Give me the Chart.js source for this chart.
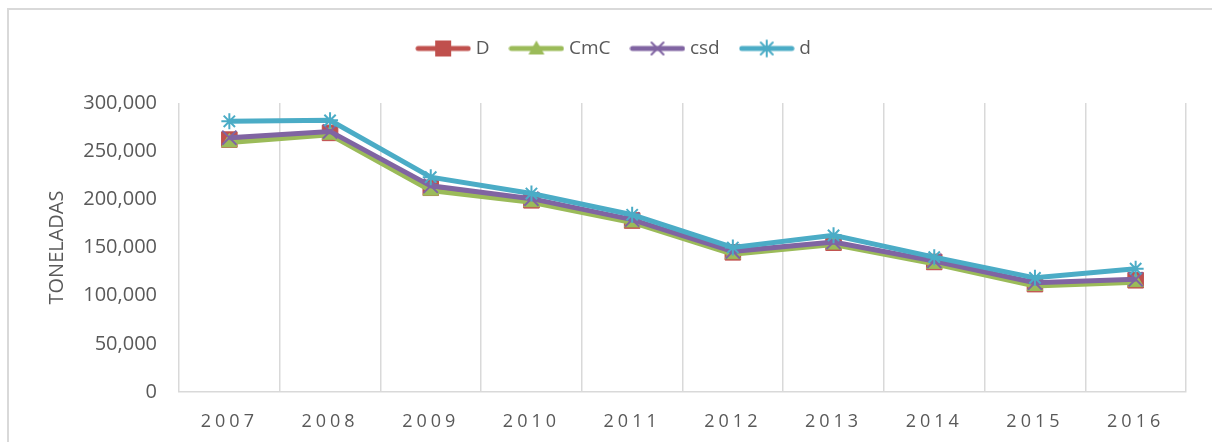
<!DOCTYPE html>
<html>
<head>
<meta charset="utf-8">
<script src="https://cdn.jsdelivr.net/npm/chart.js@4.4.1/dist/chart.umd.min.js"></script>
<style>
  html, body { margin: 0; padding: 0; background: #fff; }
  #wrap { position: relative; width: 1212px; height: 442px; overflow: hidden; }
  #frame {
    position: absolute; left: 7px; top: 8px; width: 1230px; height: 460px;
    border-left: 2px solid #d9d9d9; border-top: 2px solid #d9d9d9;
  }
  #chart { position: absolute; left: 0; top: 0; }
</style>
</head>
<body>
<div id="wrap">
  <div id="frame"></div>
  <canvas id="chart" width="1212" height="442"></canvas>
</div>
<script>
const years = ["2007", "2008", "2009", "2010", "2011", "2012", "2013", "2014", "2015", "2016"];

const serieD   = [262000, 269000, 212000, 199000, 178000, 145000, 155000, 135000, 112000, 116000];
const serieCmC = [259000, 267000, 209000, 197000, 176000, 143000, 153000, 133000, 110000, 114000];
const serieCsd = [264000, 270500, 214000, 200700, 179000, 146000, 155700, 136000, 113400, 117000];
const serieDd  = [281000, 282000, 223000, 206000, 184000, 150000, 162600, 140000, 118500, 128000];

const yTicks = [0, 50000, 100000, 150000, 200000, 250000, 300000];

const red = "#C0504D";
const green = "#9BBB59";
const purple = "#8064A2";
const cyan = "#4BACC6";
const textColor = "#595959";

// small canvas used as legend symbol: a line with the marker in the middle
function legendIcon(color, marker) {
  const c = document.createElement("canvas");
  c.width = 56;
  c.height = 20;
  const g = c.getContext("2d");
  const cx = 28, cy = 10;
  g.strokeStyle = color;
  g.fillStyle = color;
  g.lineCap = "round";
  g.lineWidth = 5;
  g.beginPath();
  g.moveTo(3, cy);
  g.lineTo(53, cy);
  g.stroke();
  g.lineWidth = 2;
  g.beginPath();
  if (marker === "rect") {
    g.fillRect(cx - 8, cy - 8, 16, 16);
  } else if (marker === "triangle") {
    g.moveTo(cx, cy - 8);
    g.lineTo(cx + 8, cy + 6);
    g.lineTo(cx - 8, cy + 6);
    g.closePath();
    g.fill();
  } else if (marker === "crossRot") {
    g.moveTo(cx - 6, cy - 6); g.lineTo(cx + 6, cy + 6);
    g.moveTo(cx + 6, cy - 6); g.lineTo(cx - 6, cy + 6);
    g.stroke();
  } else {
    g.moveTo(cx - 6, cy - 6); g.lineTo(cx + 6, cy + 6);
    g.moveTo(cx + 6, cy - 6); g.lineTo(cx - 6, cy + 6);
    g.moveTo(cx, cy - 8); g.lineTo(cx, cy + 8);
    g.stroke();
  }
  return c;
}

const iconD = legendIcon(red, "rect");
const iconCmC = legendIcon(green, "triangle");
const iconCsd = legendIcon(purple, "crossRot");
const iconDd = legendIcon(cyan, "star");

// spaced year labels on the x axis
const spacedXLabels = {
  id: "spacedXLabels",
  beforeDraw(chart) {
    const scale = chart.scales.x;
    if (scale._spaced) return;
    const orig = scale.drawLabels;
    scale.drawLabels = function (area) {
      const ctx = this.ctx;
      ctx.save();
      ctx.letterSpacing = "4px";
      orig.call(this, area);
      ctx.restore();
    };
    scale._spaced = true;
  },
};

// extra room under the legend
const legendGap = {
  id: "legendGap",
  beforeInit(chart) {
    const fit = chart.legend.fit;
    chart.legend.fit = function () {
      fit.call(this);
      this.height += 35;
    };
  },
};

const ctx = document.getElementById("chart");

const chart = new Chart(ctx, {
  type: "line",
  data: {
    labels: years,
    datasets: [
      {
        label: "D",
        data: serieD,
        borderColor: red,
        backgroundColor: red,
        borderWidth: 5,
        pointStyle: "rect",
        pointRadius: 11,
        pointBorderWidth: 1,
        order: 4,
        legendIcon: iconD,
      },
      {
        label: "CmC",
        data: serieCmC,
        borderColor: green,
        backgroundColor: green,
        borderWidth: 5,
        pointStyle: "triangle",
        pointRadius: 9,
        pointBorderWidth: 1,
        order: 3,
        legendIcon: iconCmC,
      },
      {
        label: "csd",
        data: serieCsd,
        borderColor: purple,
        backgroundColor: purple,
        borderWidth: 5,
        pointStyle: "crossRot",
        pointRadius: 10,
        pointBorderWidth: 2,
        order: 2,
        legendIcon: iconCsd,
      },
      {
        label: "d",
        data: serieDd,
        borderColor: cyan,
        backgroundColor: cyan,
        borderWidth: 5,
        pointStyle: "star",
        pointRadius: 8,
        pointBorderWidth: 2,
        order: 1,
        legendIcon: iconDd,
      },
    ],
  },
  options: {
    responsive: false,
    animation: false,
    layout: {
      padding: { top: 15, left: 45, right: 26, bottom: 0 },
    },
    elements: {
      line: { tension: 0 },
    },
    scales: {
      x: {
        offset: true,
        afterFit(scale) {
          scale.height = 50;
        },
        grid: {
          display: true,
          offset: true,
          color: "#d9d9d9",
          lineWidth: 1.5,
          drawTicks: false,
        },
        border: { display: true, color: "#d9d9d9", width: 1.5 },
        ticks: {
          color: textColor,
          padding: 19,
          font: { family: "Open Sans", size: 18 },
        },
      },
      y: {
        min: 0,
        max: 300000,
        afterBuildTicks(scale) {
          scale.ticks = yTicks.map((v) => ({ value: v }));
        },
        afterFit(scale) {
          scale.width = 134;
        },
        grid: { display: false, drawTicks: false },
        border: { display: false },
        ticks: {
          color: textColor,
          padding: 22,
          font: { family: "Open Sans", size: 20 },
          callback: (v) => v.toLocaleString("en-US"),
        },
        title: {
          display: true,
          text: "TONELADAS",
          color: textColor,
          padding: 0,
          font: { family: "Open Sans", size: 20 },
        },
      },
    },
    plugins: {
      legend: {
        display: true,
        position: "top",
        labels: {
          usePointStyle: true,
          pointStyleWidth: 46,
          padding: 24,
          color: textColor,
          font: { family: "Open Sans", size: 19 },
          sort: (a, b) => a.datasetIndex - b.datasetIndex,
          generateLabels(chart) {
            return chart.data.datasets.map((ds, i) => ({
              text: ds.label,
              pointStyle: ds.legendIcon,
              fillStyle: ds.backgroundColor,
              strokeStyle: ds.borderColor,
              lineWidth: 0,
              fontColor: textColor,
              datasetIndex: i,
              hidden: false,
            }));
          },
        },
      },
      tooltip: { enabled: false },
    },
  },
  plugins: [spacedXLabels, legendGap],
});
</script>
</body>
</html>
